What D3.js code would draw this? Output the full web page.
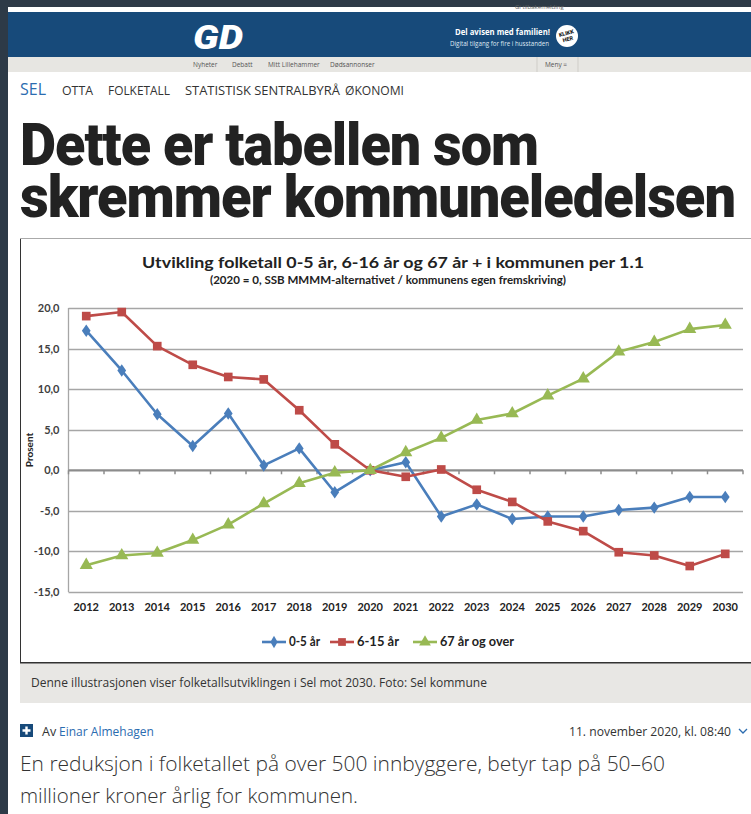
<!DOCTYPE html>
<html><head><meta charset="utf-8">
<script src="https://cdn.jsdelivr.net/npm/d3@7/dist/d3.min.js"></script>
<style>html,body{margin:0;padding:0;background:#2d3a47;overflow:hidden}svg{display:block}</style>
</head><body>
<script>
// ---- data ----
const years = [2012,2013,2014,2015,2016,2017,2018,2019,2020,2021,2022,2023,2024,2025,2026,2027,2028,2029,2030];
const age0to5 = [17.2,12.3,6.9,3.0,7.0,0.6,2.7,-2.7,0.0,1.0,-5.7,-4.2,-6.0,-5.7,-5.7,-4.9,-4.6,-3.3,-3.3];
const age6to15 = [19.0,19.5,15.3,13.0,11.5,11.2,7.4,3.2,0.0,-0.8,0.1,-2.4,-3.9,-6.3,-7.5,-10.1,-10.5,-11.8,-10.3];
const age67plus = [-11.7,-10.5,-10.2,-8.6,-6.7,-4.1,-1.6,-0.3,0.0,2.2,4.0,6.2,7.0,9.2,11.3,14.6,15.8,17.4,17.9];
const yTicks = [20,15,10,5,0,-5,-10,-15];
const seriesNames = ["0-5 år","6-15 år","67 år og over"];
const seriesColors = ["#4a7ebb","#be4b48","#98b954"];
const navItems = ["Nyheter","Debatt","Mitt Lillehammer","Dødsannonser"];
const tags = ["SEL","OTTA","FOLKETALL","STATISTISK SENTRALBYRÅ","ØKONOMI"];

const W = 751, H = 814;
const svg = d3.select("body").append("svg").attr("width", W).attr("height", H);

// ---- page chrome ----
svg.append("rect").attr("x",0).attr("y",0).attr("width",W).attr("height",H).attr("fill","#2d3a47");
svg.append("rect").attr("x",8).attr("y",7).attr("width",W-8).attr("height",H-7).attr("fill","#ffffff");
svg.append("text").attr("x",515).attr("y",9).attr("font-family","Open Sans").attr("font-size",6).attr("fill","#666").text("Gi tilbakemelding");
svg.append("rect").attr("x",8).attr("y",12).attr("width",W-8).attr("height",45).attr("fill","#174a7a");
// logo
svg.append("text").attr("x",218).attr("y",49).attr("text-anchor","middle").attr("font-family","Roboto").attr("font-weight",900)
  .attr("font-style","italic").attr("font-size",34).attr("fill","#fff").attr("textLength",50).attr("lengthAdjust","spacingAndGlyphs").text("GD");
svg.append("text").attr("x",550).attr("y",35).attr("text-anchor","end").attr("font-family","Open Sans").attr("font-weight",700)
  .attr("font-size",9.5).attr("fill","#fff").attr("textLength",95).attr("lengthAdjust","spacingAndGlyphs").text("Del avisen med familien!");
svg.append("text").attr("x",549).attr("y",46).attr("text-anchor","end").attr("font-family","Open Sans")
  .attr("font-size",7.5).attr("fill","#dfe8f2").attr("textLength",99).attr("lengthAdjust","spacingAndGlyphs").text("Digital tilgang for fire i husstanden");
svg.append("circle").attr("cx",567).attr("cy",36).attr("r",11).attr("fill","#fff");
svg.append("text").attr("x",567).attr("y",35).attr("text-anchor","middle").attr("font-family","Roboto").attr("font-weight",900).attr("font-size",5.5).attr("fill","#222").attr("transform","rotate(-15,567,36)").text("KLIKK");
svg.append("text").attr("x",567).attr("y",41).attr("text-anchor","middle").attr("font-family","Roboto").attr("font-weight",900).attr("font-size",5.5).attr("fill","#222").attr("transform","rotate(-15,567,36)").text("HER");
// nav
svg.append("rect").attr("x",8).attr("y",57).attr("width",W-8).attr("height",15).attr("fill","#e7e6e2");
const navX = [193,232,268,330];
svg.selectAll("text.nav").data(navItems).enter().append("text").attr("class","nav")
  .attr("x",(d,i)=>navX[i]).attr("y",67).attr("font-family","Open Sans").attr("font-size",6.5).attr("fill","#555").text(d=>d);
svg.append("line").attr("x1",537).attr("x2",537).attr("y1",57).attr("y2",72).attr("stroke","#cfcdc8");
svg.append("line").attr("x1",578).attr("x2",578).attr("y1",57).attr("y2",72).attr("stroke","#cfcdc8");
svg.append("text").attr("x",545).attr("y",67).attr("font-family","Open Sans").attr("font-size",6.5).attr("fill","#555").text("Meny ≡");

// tags
const tagX = [20,62,108,185,345], tagW = [26,31,62,155,59];
svg.selectAll("text.tag").data(tags).enter().append("text").attr("class","tag")
  .attr("x",(d,i)=>tagX[i]).attr("y",95)
  .attr("font-family","Open Sans").attr("font-size",(d,i)=>i===0?17:13)
  .attr("fill",(d,i)=>i===0?"#2b6cb0":"#333")
  .attr("textLength",(d,i)=>tagW[i]).attr("lengthAdjust","spacingAndGlyphs").text(d=>d);

// headline
svg.append("text").attr("x",20).attr("y",165).attr("font-family","Roboto").attr("font-weight",900).attr("font-size",56)
  .attr("letter-spacing",-1).attr("fill","#222").attr("textLength",518).attr("lengthAdjust","spacingAndGlyphs")
  .attr("transform","translate(0,165) scale(1,1.06) translate(0,-165)").text("Dette er tabellen som");
svg.append("text").attr("x",20).attr("y",217).attr("font-family","Roboto").attr("font-weight",900).attr("font-size",56)
  .attr("letter-spacing",-1).attr("fill","#222").attr("textLength",715).attr("lengthAdjust","spacingAndGlyphs")
  .attr("transform","translate(0,217) scale(1,1.06) translate(0,-217)").text("skremmer kommuneledelsen");

// ---- chart image frame ----
svg.append("rect").attr("x",20.5).attr("y",238.5).attr("width",740).attr("height",424).attr("fill","#fff")
  .attr("stroke","#333").attr("stroke-width",1);
svg.append("line").attr("x1",20).attr("x2",W).attr("y1",238.5).attr("y2",238.5).attr("stroke","#aaa");

svg.append("text").attr("x",393).attr("y",268).attr("text-anchor","middle").attr("font-family","Lato").attr("font-weight",700)
  .attr("font-size",16).attr("fill","#222").attr("textLength",502).attr("lengthAdjust","spacingAndGlyphs")
  .text("Utvikling folketall 0-5 år, 6-16 år og 67 år + i kommunen per 1.1");
svg.append("text").attr("x",388).attr("y",284).attr("text-anchor","middle").attr("font-family","Lato").attr("font-weight",700)
  .attr("font-size",10.5).attr("fill","#222").attr("textLength",356).attr("lengthAdjust","spacingAndGlyphs")
  .text("(2020 = 0, SSB MMMM-alternativet / kommunens egen fremskriving)");

const x = d3.scaleBand().domain(years).range([68.5, 743]).padding(0);
const cx = d => x(d) + x.bandwidth()/2;
const y = d3.scaleLinear().domain([-15, 20]).range([592, 308]);

// gridlines
const g = svg.append("g");
g.selectAll("line.grid").data(yTicks.filter(t=>t!==0)).enter().append("line")
  .attr("x1",68.5).attr("x2",743).attr("y1",d=>Math.round(y(d))+0.5).attr("y2",d=>Math.round(y(d))+0.5)
  .attr("stroke","#a6a6a6").attr("stroke-width",1.3);
// y axis line
g.append("line").attr("x1",68.5).attr("x2",68.5).attr("y1",y(20)).attr("y2",y(-15)).attr("stroke","#a6a6a6").attr("stroke-width",1.3);
// y axis labels
const yAxis = d3.axisLeft(y).tickValues(yTicks).tickSize(0).tickPadding(9)
  .tickFormat(d => d3.format(".1f")(d).replace(".", ",").replace("−","-"));
const ya = svg.append("g").attr("transform","translate(68.5,0)").call(yAxis);
ya.select(".domain").remove();
ya.selectAll("text").attr("font-family","Lato").attr("font-weight",700).attr("font-size",11).attr("fill","#404040");

// zero axis with category ticks
const zero = svg.append("g").attr("transform",`translate(0,${y(0)})`);
zero.append("line").attr("x1",68.5).attr("x2",743).attr("stroke","#8c8c8c").attr("stroke-width",2.2);
const bounds = years.map(d=>x(d)).concat([x(years[years.length-1])+x.bandwidth()]);
zero.selectAll("line.tk").data(bounds).enter().append("line").attr("x1",d=>d).attr("x2",d=>d).attr("y1",0).attr("y2",4)
  .attr("stroke","#8c8c8c").attr("stroke-width",1.5);

// x labels
const xa = svg.append("g").attr("transform","translate(0,603)").call(d3.axisBottom(x).tickSize(0).tickPadding(0));
xa.select(".domain").remove();
xa.selectAll("text").attr("font-family","Lato").attr("font-weight",700).attr("font-size",11).attr("fill","#222");

// y title
svg.append("text").attr("transform",`translate(33,${y(2.5)}) rotate(-90)`).attr("text-anchor","middle")
  .attr("font-family","Lato").attr("font-weight",700).attr("font-size",10).attr("fill","#222").text("Prosent");

// series
const series = [age0to5, age6to15, age67plus];
const line = d3.line().x((d,i)=>cx(years[i])).y(d=>y(d));
const symbols = [d3.symbolDiamond, d3.symbolSquare, d3.symbolTriangle];
const symSize = [55, 75, 75];
series.forEach((vals, si) => {
  svg.append("path").datum(vals).attr("d", line).attr("fill","none").attr("stroke",seriesColors[si])
    .attr("stroke-width",2.6).attr("stroke-linejoin","round");
  svg.selectAll(`path.m${si}`).data(vals).enter().append("path").attr("class",`m${si}`)
    .attr("d", d3.symbol().type(symbols[si]).size(symSize[si]))
    .attr("transform",(d,i)=>`translate(${cx(years[i])},${y(d)})${si===0?" scale(1.1,0.9)":""}`)
    .attr("fill",seriesColors[si]);
});

// legend
const legX = [262, 330, 413];
const legW = [31, 42, 74];
const lg = svg.append("g");
seriesNames.forEach((n, i) => {
  lg.append("line").attr("x1",legX[i]).attr("x2",legX[i]+24).attr("y1",642).attr("y2",642).attr("stroke",seriesColors[i]).attr("stroke-width",2.6);
  lg.append("path").attr("d", d3.symbol().type(symbols[i]).size(symSize[i]*0.8)).attr("transform",`translate(${legX[i]+12},642)`).attr("fill",seriesColors[i]);
  lg.append("text").attr("x",legX[i]+27).attr("y",646).attr("font-family","Lato").attr("font-weight",700).attr("font-size",12.5)
    .attr("fill","#222").attr("textLength",legW[i]).attr("lengthAdjust","spacingAndGlyphs").text(n);
});

// caption box
svg.append("rect").attr("x",20).attr("y",663).attr("width",W-20).attr("height",40).attr("fill","#e8e7e4");
svg.append("line").attr("x1",20).attr("x2",W).attr("y1",663).attr("y2",663).attr("stroke","#333");
svg.append("text").attr("x",31).attr("y",687).attr("font-family","Open Sans").attr("font-size",12).attr("fill","#333")
  .attr("textLength",456).attr("lengthAdjust","spacingAndGlyphs")
  .text("Denne illustrasjonen viser folketallsutviklingen i Sel mot 2030. Foto: Sel kommune");

// byline
svg.append("rect").attr("x",20).attr("y",724).attr("width",13).attr("height",13).attr("fill","#174a7a");
svg.append("path").attr("d","M26.5,726.5V734.5M22.5,730.5H30.5").attr("stroke","#fff").attr("stroke-width",2.4);
svg.append("text").attr("x",42).attr("y",736).attr("font-family","Open Sans").attr("font-size",12.5).attr("fill","#333").text("Av");
svg.append("text").attr("x",59).attr("y",736).attr("font-family","Open Sans").attr("font-size",12.5).attr("fill","#2b6cb0")
  .attr("textLength",95).attr("lengthAdjust","spacingAndGlyphs").text("Einar Almehagen");
svg.append("text").attr("x",731).attr("y",736).attr("text-anchor","end").attr("font-family","Open Sans").attr("font-size",12.5).attr("fill","#333")
  .attr("textLength",162).attr("lengthAdjust","spacingAndGlyphs").text("11. november 2020, kl. 08:40");
svg.append("path").attr("d","M739,729L743,733L747,729").attr("fill","none").attr("stroke","#2b6cb0").attr("stroke-width",1.3);

// lead
svg.append("text").attr("x",20).attr("y",771).attr("font-family","Open Sans").attr("font-weight",300).attr("font-size",21).attr("fill","#333")
  .attr("textLength",645).attr("lengthAdjust","spacingAndGlyphs").text("En reduksjon i folketallet på over 500 innbyggere, betyr tap på 50–60");
svg.append("text").attr("x",20).attr("y",803).attr("font-family","Open Sans").attr("font-weight",300).attr("font-size",21).attr("fill","#333")
  .attr("textLength",338).attr("lengthAdjust","spacingAndGlyphs").text("millioner kroner årlig for kommunen.");
</script>
</body></html>
